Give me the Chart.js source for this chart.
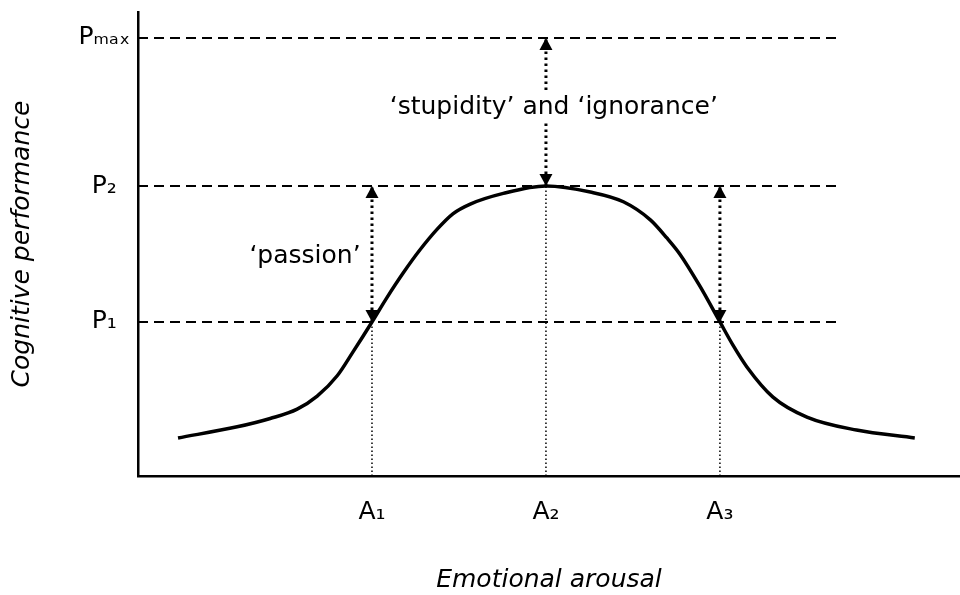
<!DOCTYPE html>
<html>
<head>
<meta charset="utf-8">
<script src="https://cdn.jsdelivr.net/npm/chart.js@4"></script>
<style>
  html, body { margin: 0; padding: 0; background: #fff; }
</style>
</head>
<body>
<canvas id="myChart" width="960" height="595"></canvas>
<script>
// performance curve (arbitrary units)
const arousal = [0.77, 1.45, 1.83, 2.14, 2.37, 2.60, 2.78, 3.0, 3.17, 3.36, 3.55, 3.75, 3.93, 4.13, 4.51, 5.0,
                 5.51, 5.89, 6.20, 6.39, 6.54, 6.77, 7.0, 7.15, 7.31, 7.61, 8.0, 8.57, 9.24];
const performance = [0.82, 1.06, 1.24, 1.44, 1.72, 2.16, 2.67, 3.32, 3.84, 4.38, 4.87, 5.32, 5.65, 5.86, 6.09, 6.25,
                     6.12, 5.91, 5.52, 5.13, 4.78, 4.09, 3.32, 2.82, 2.35, 1.70, 1.27, 0.99, 0.82];

const levelNames = ['P₁', 'P₂', 'Pₘₐₓ'];
const levels = [3.32, 6.25, 9.44];
const pointNames = ['A₁', 'A₂', 'A₃'];
const points = [3, 5, 7];

const xMin = 0.31;
const xMax = 9.76;
const guideEnd = 8.36;

const arrows = [
  { x: points[0], from: levels[0], to: levels[1] },
  { x: points[1], from: levels[1], to: levels[2] },
  { x: points[2], from: levels[0], to: levels[1] },
];

const notes = [
  { text: '‘passion’', x: 2.23, y: 4.73 },
  { text: '‘stupidity’ and ‘ignorance’', x: 5.09, y: 7.94 },
];

const FONT = 'DejaVu Sans';

const arrowExtras = {
  id: 'arrowExtras',
  afterDatasetsDraw(chart) {
    const { ctx, scales: { x, y } } = chart;
    ctx.save();
    ctx.fillStyle = '#000';
    arrows.forEach((a) => {
      const px = x.getPixelForValue(a.x);
      [[a.from, a.to], [a.to, a.from]].forEach(([tip, tail]) => {
        const ty = y.getPixelForValue(tip);
        const dir = y.getPixelForValue(tail) > ty ? 1 : -1;
        ctx.beginPath();
        ctx.moveTo(px, ty);
        ctx.lineTo(px - 6.5, ty + dir * 12);
        ctx.lineTo(px + 6.5, ty + dir * 12);
        ctx.closePath();
        ctx.fill();
      });
    });

    ctx.font = `25px "${FONT}"`;
    ctx.textAlign = 'center';
    ctx.textBaseline = 'middle';
    notes.forEach((n) => {
      const nx = x.getPixelForValue(n.x);
      const ny = y.getPixelForValue(n.y);
      const w = ctx.measureText(n.text).width;
      ctx.fillStyle = '#fff';
      ctx.fillRect(nx - w / 2, ny - 15, w, 30);
      ctx.fillStyle = '#000';
      ctx.fillText(n.text, nx, ny);
    });
    ctx.restore();
  },
};

const line = (data, width, dash) => ({
  data,
  borderColor: '#000',
  borderWidth: width,
  borderDash: dash,
  pointRadius: 0,
  fill: false,
});

const datasets = [
  {
    data: arousal.map((v, i) => ({ x: v, y: performance[i] })),
    borderColor: '#000',
    borderWidth: 3.5,
    pointRadius: 0,
    cubicInterpolationMode: 'monotone',
    fill: false,
  },
  ...levels.map((l) => line([{ x: xMin, y: l }, { x: guideEnd, y: l }], 2, [10, 6])),
  ...arrows.map((a) => line([{ x: a.x, y: 0 }, { x: a.x, y: a.from }], 1.5, [1.5, 2.5])),
  ...arrows.map((a) => line([{ x: a.x, y: a.from }, { x: a.x, y: a.to }], 3, [2.5, 3.5])),
];

new Chart(document.getElementById('myChart').getContext('2d'), {
  type: 'line',
  data: { datasets },
  plugins: [arrowExtras],
  options: {
    responsive: false,
    animation: false,
    layout: { padding: { top: 12, left: 0, right: 0, bottom: 0 } },
    plugins: { legend: { display: false }, tooltip: { enabled: false } },
    scales: {
      x: {
        type: 'linear',
        min: xMin,
        max: xMax,
        grid: { display: false, drawTicks: false },
        border: { display: true, color: '#000', width: 2.5 },
        afterBuildTicks: (s) => { s.ticks = points.map((v) => ({ value: v })); },
        afterFit: (s) => {
          s.height = 119;
          s.paddingLeft = 0;
          s.paddingRight = 0;
        },
        ticks: {
          callback: (v, i) => pointNames[i],
          padding: 21,
          maxRotation: 0,
          autoSkip: false,
          color: '#000',
          font: { family: FONT, size: 25 },
        },
        title: {
          display: true,
          text: 'Emotional arousal',
          color: '#000',
          font: { family: FONT, size: 25, style: 'italic' },
          padding: { top: 0, bottom: 0 },
        },
      },
      y: {
        type: 'linear',
        min: 0,
        max: 10,
        grid: { display: false, drawTicks: false },
        border: { display: true, color: '#000', width: 2.5 },
        afterBuildTicks: (s) => { s.ticks = levels.map((v) => ({ value: v })); },
        afterFit: (s) => {
          s.width = 138;
          s.paddingTop = 0;
          s.paddingBottom = 0;
        },
        ticks: {
          callback: (v, i) => levelNames[i],
          crossAlign: 'center',
          padding: 8,
          autoSkip: false,
          color: '#000',
          font: { family: FONT, size: 25 },
        },
        title: {
          display: true,
          text: 'Cognitive performance',
          color: '#000',
          font: { family: FONT, size: 25, style: 'italic' },
          padding: { top: 7, bottom: 0 },
        },
      },
    },
  },
});
</script>
</body>
</html>
